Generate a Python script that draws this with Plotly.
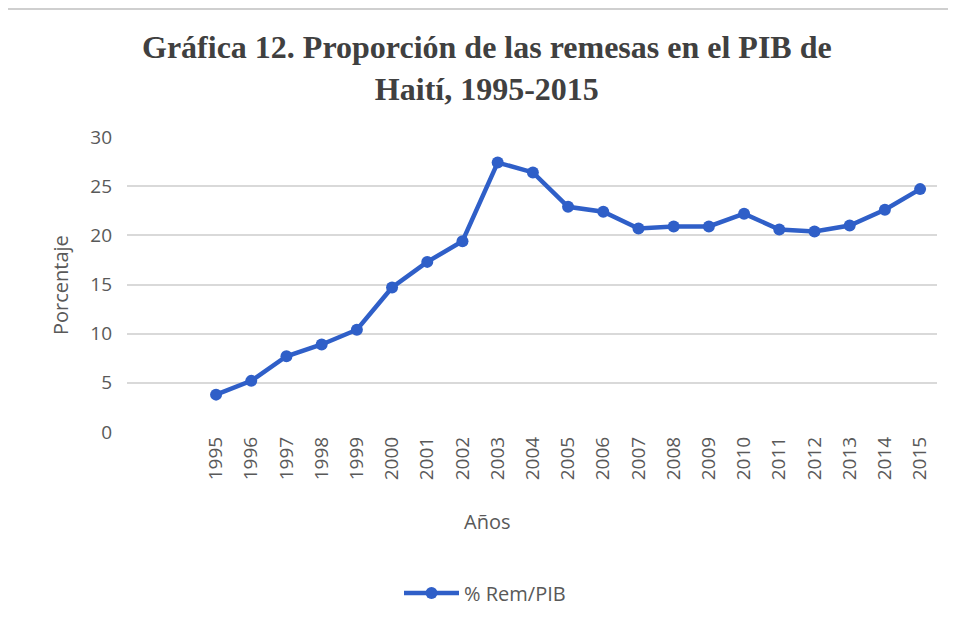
import plotly.graph_objects as go

years = ["1995", "1996", "1997", "1998", "1999", "2000", "2001", "2002", "2003", "2004",
         "2005", "2006", "2007", "2008", "2009", "2010", "2011", "2012", "2013", "2014", "2015"]
rem_pib = [3.8, 5.2, 7.7, 8.9, 10.4, 14.7, 17.3, 19.4, 27.4, 26.4,
           22.9, 22.4, 20.7, 20.9, 20.9, 22.2, 20.6, 20.4, 21.0, 22.6, 24.7]
y_ticks = [0, 5, 10, 15, 20, 25, 30]

title_text = "Gráfica 12. Proporción de las remesas en el PIB de<br>Haití, 1995-2015"
series_name = "% Rem/PIB"
x_title = "Años"
y_title = "Porcentaje"

blue = "#2F5FC8"
gray_text = "#595959"
sans = "Open Sans, Liberation Sans, sans-serif"

# page is drawn with an 8px body offset; layout numbers compensate for it
L, T, W, H = 119, 129, 810, 295

fig = go.Figure()
fig.add_trace(go.Scatter(
    x=years, y=rem_pib, mode="lines+markers", name=series_name,
    line=dict(color=blue, width=4.5),
    marker=dict(color=blue, size=12, symbol="circle"),
))

def px(x):
    return (x - L) / W

def py(y):
    return (T + H - y) / H

fig.update_layout(
    width=956, height=626,
    margin=dict(l=L, r=956 - L - W, t=T, b=626 - T - H),
    paper_bgcolor="white", plot_bgcolor="white",
    showlegend=True,
    legend=dict(orientation="h", x=px(477), xanchor="center", y=py(585), yanchor="middle",
                font=dict(family=sans, size=20, color=gray_text), itemwidth=55),
    xaxis=dict(type="category", range=[-2.53, 20.48], showgrid=False, zeroline=False,
               showline=False, ticks="", tickangle=-90,
               tickfont=dict(family=sans, size=19, color=gray_text)),
    yaxis=dict(range=[0, 30], tickvals=y_ticks, showgrid=True, gridcolor="#d9d9d9", gridwidth=1.5,
               zeroline=False, showline=False, ticks="", ticklabelstandoff=14,
               tickfont=dict(family=sans, size=19, color=gray_text)),
    annotations=[
        dict(text=title_text, xref="paper", yref="paper", x=px(479), y=py(60), showarrow=False,
             xanchor="center", yanchor="middle", align="center",
             font=dict(family="Liberation Serif, Times New Roman, serif", size=32, color="#404040",
                       weight="bold")),
        dict(text=x_title, xref="paper", yref="paper", x=px(479), y=py(513), showarrow=False,
             xanchor="center", yanchor="middle", font=dict(family=sans, size=20, color=gray_text)),
        dict(text=y_title, xref="paper", yref="paper", x=px(52), y=py(277), showarrow=False,
             textangle=-90, xanchor="center", yanchor="middle",
             font=dict(family=sans, size=20, color=gray_text)),
    ],
    shapes=[
        dict(type="line", xref="paper", yref="paper", x0=px(-2), x1=px(956),
             y0=py(1), y1=py(1), line=dict(color="#cfcfcf", width=2)),
        dict(type="line", xref="paper", yref="paper", x0=px(-1), x1=px(-1),
             y0=py(1), y1=py(626), line=dict(color="#cfcfcf", width=2)),
    ],
)

fig.write_html("out.html")
